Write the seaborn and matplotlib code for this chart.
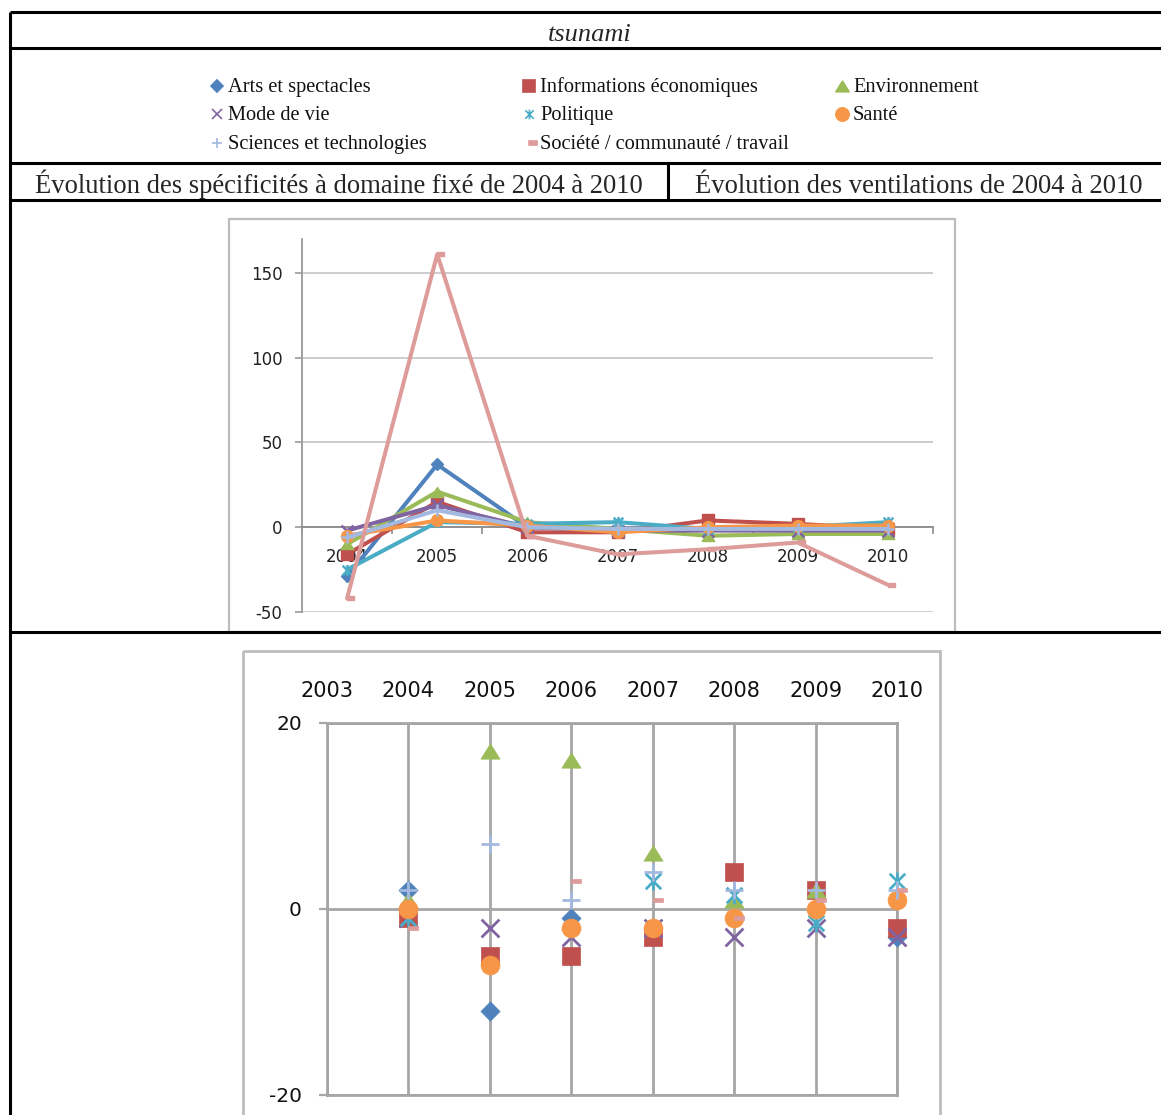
import numpy as np
import pandas as pd
import matplotlib
matplotlib.use("Agg")
import matplotlib.pyplot as plt
from matplotlib.path import Path
from matplotlib.patches import Rectangle
import seaborn as sns

sns.set_theme(style="white")
plt.rcParams['font.family'] = ['DejaVu Sans']

W, H = 1161, 1115

# ---------------------------------------------------------------- texts
title = "tsunami"
header_left = "Évolution des spécificités à domaine fixé de 2004 à 2010"
header_right = "Évolution des ventilations de 2004 à 2010"

domains = [
    "Arts et spectacles",
    "Informations économiques",
    "Environnement",
    "Mode de vie",
    "Politique",
    "Santé",
    "Sciences et technologies",
    "Société / communauté / travail",
]

# ---------------------------------------------------------------- data
years = [2004, 2005, 2006, 2007, 2008, 2009, 2010]
vent_year_ticks = [2003, 2004, 2005, 2006, 2007, 2008, 2009, 2010]
spec_ticks = [-50, 0, 50, 100, 150]
vent_ticks = [-20, 0, 20]

# spécificités à domaine fixé
spec_arts = [-29, 37, 0, -1, -1, -1, -1]
spec_info = [-16, 15, -3, -3, 4, 2, -1]
spec_env = [-10, 21, 3, -1, -5, -4, -4]
spec_mode = [-2, 13, 0, -2, -2, -2, -2]
spec_pol = [-25, 3, 2, 3, -1, 0, 3]
spec_sante = [-5, 4, 1, -3, 0, 1, 1]
spec_sci = [-6, 10, 0, -1, -1, -1, -1]
spec_soc = [-42, 161, -5, -16, -13, -9, -34]

# ventilations
nan = np.nan
vent_arts = [2, -11, -1, nan, nan, nan, -3]
vent_info = [-1, -5, -5, -3, 4, 2, -2]
vent_env = [1, 17, 16, 6, 1, 2, nan]
vent_mode = [-1, -2, -3, -2, -3, -2, -3]
vent_pol = [-1, nan, nan, 3, 1.5, -1.5, 3]
vent_sante = [0, -6, -2, -2, -1, 0, 1]
vent_sci = [2, 7, 1, 4, 2, 2, 2]
vent_soc = [-2, nan, 3, 1, -1, 1, 2]

spec_series = [spec_arts, spec_info, spec_env, spec_mode,
               spec_pol, spec_sante, spec_sci, spec_soc]
vent_series = [vent_arts, vent_info, vent_env, vent_mode,
               vent_pol, vent_sante, vent_sci, vent_soc]

# ---------------------------------------------------------------- styles
colors = ["#4F81BD", "#C0504D", "#9BBB59", "#8064A2",
          "#4BACC6", "#F79646", "#A3B9E0", "#DD9B9A"]

M, L = Path.MOVETO, Path.LINETO
star_marker = Path([(-1, -1), (1, 1), (-1, 1), (1, -1), (0, -1.15), (0, 1.15)],
                   [M, L, M, L, M, L])
tri_marker = Path([(0, 0.8), (-1, -0.8), (1, -0.8), (0, 0.8)],
                  [M, L, L, Path.CLOSEPOLY])
dash_marker = Path([(0, -0.22), (1, -0.22), (1, 0.22), (0, 0.22), (0, -0.22)],
                   [M, L, L, L, Path.CLOSEPOLY])
markers = ["D", "s", tri_marker, "x", star_marker, "o", "+", dash_marker]
line_art = [False, False, False, True, True, False, True, False]

# scatter sizes (pt^2) and line-chart marker sizes (pt)
scatter_sizes = [95, 175, 190, 165, 165, 185, 165, 210]
line_msizes = [6.5, 8, 9, 8, 8, 8.5, 8, 10]

fig = plt.figure(figsize=(W / 100, H / 100), dpi=100)
fig.patch.set_facecolor("white")


def px_axes(x0, y0, x1, y1, **kw):
    return fig.add_axes([x0 / W, 1 - y1 / H, (x1 - x0) / W, (y1 - y0) / H], **kw)


# ---------------------------------------------------------------- table frame
frame = px_axes(0, 0, W, H, zorder=0)
frame.set_xlim(0, W)
frame.set_ylim(H, 0)
frame.axis("off")

serif = ["Liberation Serif", "DejaVu Serif"]
rule = dict(color="black", lw=2.2, solid_capstyle="butt")
frame.plot([10, W + 5], [12, 12], **rule)
for yy in (48, 163, 200, 632):
    frame.plot([10, W + 5], [yy, yy], **rule)
frame.plot([10, 10], [12, H + 5], **rule)
frame.plot([668, 668], [163, 200], **rule)

frame.text(590, 41, title, ha="center", va="baseline", fontsize=19,
           style="italic", family=serif)
frame.text(339, 193, header_left, ha="center", va="baseline", fontsize=19.2,
           family=serif)
frame.text(919, 193, header_right, ha="center", va="baseline", fontsize=19.2,
           family=serif)

# chart boxes
frame.add_patch(Rectangle((229, 219), 955 - 229, 632 - 219, fill=False,
                          ec="#BDBDBD", lw=1.6, zorder=1))
frame.add_patch(Rectangle((243, 651), 940 - 243, H + 20 - 651, fill=False,
                          ec="#BDBDBD", lw=2.0, zorder=1))

# legend (3 columns, row-major)
leg_cols_x = [217, 529, 842]
leg_rows_y = [86, 114, 143]
leg_sizes = [6.5, 9, 9.5, 7, 7, 9.5, 7, 11]
for i, (d, c, m) in enumerate(zip(domains, colors, markers)):
    r, k = divmod(i, 3)
    mx, my = leg_cols_x[k], leg_rows_y[r]
    frame.plot([mx], [my], marker=m, color=c, markersize=leg_sizes[i],
               mec=c, mew=1.2, ls="none")
    frame.text(mx + 11, my + 6, d, ha="left", va="baseline", fontsize=14.7,
               family=serif, color="#111111")

# ---------------------------------------------------------------- line chart
ax1 = px_axes(302, 239, 933, 612)
ax1.set_facecolor("none")
for d, c, m, ms, la, vals in zip(domains, colors, markers, line_msizes,
                                 line_art, spec_series):
    sns.lineplot(x=years, y=vals, ax=ax1, color=c, lw=2.9, marker=m,
                 markersize=ms, mec=c, mfc=c, mew=1.8 if la else 1,
                 errorbar=None, sort=False, legend=False, zorder=3)
ax1.set_xlim(2003.5, 2010.5)
ax1.set_ylim(-50, 170)
ax1.set_yticks(spec_ticks)
ax1.set_yticklabels([str(v) for v in spec_ticks])
ax1.yaxis.grid(True, color="#C9C9C9", lw=1.3)
ax1.xaxis.grid(False)
ax1.set_axisbelow(True)
for s in ("top", "right"):
    ax1.spines[s].set_visible(False)
ax1.spines["left"].set_color("#9A9A9A")
ax1.spines["left"].set_linewidth(1.3)
ax1.spines["bottom"].set_position(("data", 0))
ax1.spines["bottom"].set_color("#8C8C8C")
ax1.spines["bottom"].set_linewidth(1.3)
ax1.set_xticks(np.arange(2003.5, 2011, 1.0))
ax1.set_xticklabels([])
ax1.set_xticks(years, minor=True)
ax1.set_xticklabels([str(y) for y in years], minor=True)
ax1.tick_params(axis="x", which="major", length=5, width=1.2,
                color="#8C8C8C", direction="out", bottom=True)
ax1.tick_params(axis="x", which="minor", length=0, pad=15, labelsize=12,
                labelcolor="#222222", bottom=True)
ax1.tick_params(axis="y", length=5, width=1.2, color="#9A9A9A",
                direction="out", left=True, pad=9, labelsize=12,
                labelcolor="#222222")
ax1.set_xlabel("")
ax1.set_ylabel("")

# ---------------------------------------------------------------- scatter chart
ax2 = px_axes(327, 723, 897, 1095)
ax2.set_facecolor("none")
for d, c, m, s, la, vals in zip(domains, colors, markers, scatter_sizes,
                                line_art, vent_series):
    sns.scatterplot(x=years, y=vals, ax=ax2, color=c, marker=m, s=s,
                    edgecolor=c, linewidth=2.0 if la else 0.5,
                    legend=False, zorder=3, clip_on=False)
ax2.set_xlim(2003, 2010)
ax2.set_ylim(-20, 20)
ax2.set_xticks(vent_year_ticks)
ax2.set_xticklabels([str(y) for y in vent_year_ticks])
ax2.set_yticks(vent_ticks)
ax2.set_yticklabels([str(v) for v in vent_ticks])
ax2.xaxis.tick_top()
ax2.grid(True, color="#A6A6A6", lw=2.0)
ax2.set_axisbelow(True)
for s in ("top", "right", "bottom", "left"):
    ax2.spines[s].set_color("#A6A6A6")
    ax2.spines[s].set_linewidth(2.0)
ax2.tick_params(axis="x", which="major", length=0, pad=16, labelsize=15,
                labelcolor="#111111", top=True, bottom=False)
ax2.tick_params(axis="y", length=6, width=1.6, color="#A6A6A6",
                direction="out", left=True, pad=12, labelsize=14.5,
                labelcolor="#111111")
ax2.set_xlabel("")
ax2.set_ylabel("")

fig.savefig("out.png", dpi=100, facecolor="white")
